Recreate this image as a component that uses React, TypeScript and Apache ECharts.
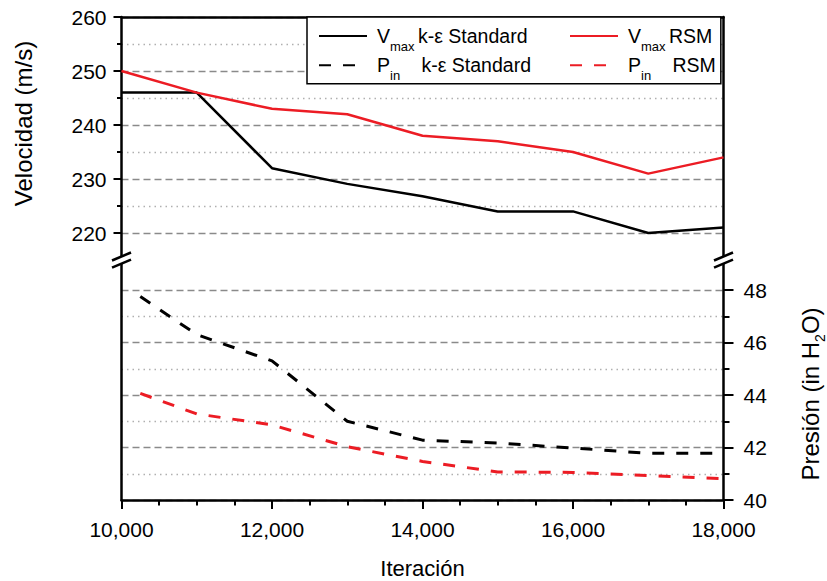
import React, { useEffect, useRef } from "react";
import * as echarts from "echarts";

// ---------- data ----------
const ITER = [10000, 11000, 12000, 13000, 14000, 15000, 16000, 17000, 18000];
const VMAX_KE = [246, 246, 232, 229.1, 226.8, 224, 224, 220, 221];
const VMAX_RSM = [250, 246, 243, 242, 238, 237, 235, 231, 234];
const PIN_ITER = [10250, 11000, 12000, 13000, 14000, 15000, 16000, 17000, 18000];
const PIN_KE = [47.75, 46.3, 45.3, 43.0, 42.28, 42.17, 41.98, 41.78, 41.78];
const PIN_RSM = [44.06, 43.28, 42.86, 42.03, 41.47, 41.07, 41.05, 40.93, 40.81];

const VEL_MAJOR = [220, 230, 240, 250, 260];
const VEL_MINOR = [225, 235, 245, 255];
const PRES_MAJOR = [40, 42, 44, 46, 48];
const PRES_MINOR = [41, 43, 45, 47];

const N_VKE = "Vmax k-ε Standard";
const N_VRSM = "Vmax RSM";
const N_PKE = "Pin k-ε Standard";
const N_PRSM = "Pin RSM";

const FONT = '"Liberation Sans", Arial, Helvetica, sans-serif';
const RED = "#ec1c24";
const BLACK = "#000000";

const pairs = (xs: number[], ys: number[]) => xs.map((x, i) => [x, ys[i]]);
const fmtThousands = (v: number) => String(v).replace(/\B(?=(\d{3})+(?!\d))/g, ",");

const LEGEND_TEXT: Record<string, string> = {
  [N_VKE]: "{v|V}{s|max}{t|k-ε Standard}",
  [N_VRSM]: "{v|V}{s|max}{u|RSM}",
  [N_PKE]: "{v|P}{s2|in}{t2|k-ε Standard}",
  [N_PRSM]: "{v|P}{s2|in}{u|RSM}",
};

export default function App() {
  const ref = useRef<HTMLDivElement>(null);

  useEffect(() => {
    if (!ref.current) return;
    const chart = echarts.init(ref.current, null, { renderer: "svg" });

    const axisLine = { show: true, onZero: false, lineStyle: { color: BLACK, width: 2.5 } };
    const dashedGrid = { show: true, lineStyle: { color: "#8a8a8a", width: 1.3, type: [7, 4] } };
    const dottedGrid = { show: true, lineStyle: { color: "#b0b0b0", width: 1.4, type: [1.5, 4] } };
    const tickStyle = { color: BLACK, width: 2 };
    const labelStyle = { color: BLACK, fontSize: 21, fontFamily: FONT };

    const grid = [
      { left: 121.5, right: 103.5, top: 17, height: 243 },
      { left: 121.5, right: 103.5, top: 263.75, height: 236.25 },
    ];

    const xAxis = [
      {
        gridIndex: 0, type: "value", position: "top", min: 10000, max: 18000,
        axisLine, axisTick: { show: false }, axisLabel: { show: false }, splitLine: { show: false },
      },
      {
        gridIndex: 1, type: "value", position: "bottom", min: 10000, max: 18000, interval: 2000,
        axisLine,
        axisTick: { show: true, length: 9, lineStyle: tickStyle },
        minorTick: { show: true, splitNumber: 4, length: 5.5, lineStyle: tickStyle },
        axisLabel: { ...labelStyle, margin: 19, formatter: (v: number) => fmtThousands(v) },
        splitLine: { show: false },
        name: "Iteración", nameLocation: "middle", nameGap: 57,
        nameTextStyle: { color: BLACK, fontSize: 22, fontFamily: FONT },
      },
    ];

    const yAxis = [
      {
        gridIndex: 0, type: "value", position: "left", min: 215, max: 260,
        axisLine,
        axisTick: { show: true, length: 8, lineStyle: tickStyle, customValues: VEL_MAJOR },
        axisLabel: { ...labelStyle, margin: 15, customValues: VEL_MAJOR },
        splitLine: dashedGrid,
      },
      {
        gridIndex: 0, type: "value", position: "left", min: 215, max: 260,
        axisLine: { show: false },
        axisTick: { show: true, length: 4.5, lineStyle: tickStyle, customValues: VEL_MINOR },
        axisLabel: { show: false, customValues: VEL_MINOR },
        splitLine: dottedGrid,
      },
      {
        gridIndex: 0, type: "value", position: "right", min: 215, max: 260,
        axisLine, axisTick: { show: false }, axisLabel: { show: false }, splitLine: { show: false },
      },
      {
        gridIndex: 1, type: "value", position: "right", min: 40, max: 49,
        axisLine,
        axisTick: { show: true, length: 10, lineStyle: tickStyle, customValues: PRES_MAJOR },
        axisLabel: { ...labelStyle, margin: 20, customValues: PRES_MAJOR },
        splitLine: dashedGrid,
      },
      {
        gridIndex: 1, type: "value", position: "right", min: 40, max: 49,
        axisLine: { show: false },
        axisTick: { show: true, length: 6, lineStyle: tickStyle, customValues: PRES_MINOR },
        axisLabel: { show: false, customValues: PRES_MINOR },
        splitLine: dottedGrid,
      },
      {
        gridIndex: 1, type: "value", position: "left", min: 40, max: 49,
        axisLine, axisTick: { show: false }, axisLabel: { show: false }, splitLine: { show: false },
      },
    ];

    const series = [
      {
        name: N_VKE, type: "line", xAxisIndex: 0, yAxisIndex: 0, data: pairs(ITER, VMAX_KE),
        symbol: "none", lineStyle: { color: BLACK, width: 2.5 }, itemStyle: { color: BLACK }, z: 5,
      },
      {
        name: N_VRSM, type: "line", xAxisIndex: 0, yAxisIndex: 0, data: pairs(ITER, VMAX_RSM),
        symbol: "none", lineStyle: { color: RED, width: 2.5 }, itemStyle: { color: RED }, z: 5,
      },
      {
        name: N_PKE, type: "line", xAxisIndex: 1, yAxisIndex: 3, data: pairs(PIN_ITER, PIN_KE),
        symbol: "none", lineStyle: { color: BLACK, width: 3, type: [12, 12] }, itemStyle: { color: BLACK }, z: 5,
      },
      {
        name: N_PRSM, type: "line", xAxisIndex: 1, yAxisIndex: 3, data: pairs(PIN_ITER, PIN_RSM),
        symbol: "none", lineStyle: { color: RED, width: 3, type: [12, 12] }, itemStyle: { color: RED }, z: 5,
      },
    ];

    const clearBg = "rgba(255,255,255,0)";
    const mainTok = { fontSize: 19.5, fontFamily: FONT, color: BLACK };
    const subTok = { fontSize: 13, fontFamily: FONT, color: BLACK, padding: [20.5, 0, 0, 0] };

    const legend = {
      left: 307, top: 17,
      orient: "horizontal",
      width: 404,
      itemWidth: 48, itemHeight: 20, itemGap: 2.5,
      padding: [8.9, 5, 1.8, 11],
      borderColor: BLACK, borderWidth: 1.5, backgroundColor: "#ffffff",
      selectedMode: false,
      data: [N_VKE, N_VRSM, N_PKE, N_PRSM],
      itemStyle: { opacity: 0, borderWidth: 0 },
      formatter: (name: string) => LEGEND_TEXT[name],
      textStyle: {
        ...mainTok,
        rich: {
          v: { ...mainTok, width: 13, padding: [0, 0, 0, 5] },
          s: { ...subTok, width: 28 },
          s2: { ...subTok, width: 31.5 },
          t: { ...mainTok, width: 148.5, backgroundColor: clearBg },
          t2: { ...mainTok, width: 145, backgroundColor: clearBg },
          u: { ...mainTok },
        },
      },
      z: 20,
    };

    const brk = (cx: number, cy: number) => ({
      type: "line", z: 100,
      shape: { x1: cx - 9.5, y1: cy + 4, x2: cx + 9.5, y2: cy - 4 },
      style: { stroke: BLACK, lineWidth: 2.5 },
    });
    const brkFill = (cx: number) => ({
      type: "polygon", z: 99,
      shape: { points: [[cx - 9.5, 260.5], [cx + 9.5, 252.5], [cx + 9.5, 259.6], [cx - 9.5, 267.6]] },
      style: { fill: "#ffffff" },
    });

    const graphic = [
      brkFill(121.5), brk(121.5, 256.5), brk(121.5, 263.6),
      brkFill(723.5), brk(723.5, 256.5), brk(723.5, 263.6),
      {
        type: "text", x: 23.5, y: 123.5, rotation: Math.PI / 2, z: 50,
        style: {
          text: "Velocidad (m/s)", fontSize: 24, fontFamily: FONT, fill: BLACK,
          align: "center", verticalAlign: "middle", textAlign: "center", textVerticalAlign: "middle",
        },
      },
      {
        type: "text", x: 810, y: 394, rotation: Math.PI / 2, z: 50,
        style: {
          text: "{m|Presión (in H}{s|2}{m|O)}", fill: BLACK,
          align: "center", verticalAlign: "middle", textAlign: "center", textVerticalAlign: "middle",
          rich: {
            m: { fontSize: 24, fontFamily: FONT, fill: BLACK },
            s: { fontSize: 14, fontFamily: FONT, fill: BLACK, padding: [19, 0, 0, 0] },
          },
        },
      },
    ];

    chart.setOption({
      animation: false,
      backgroundColor: "#ffffff",
      grid, xAxis, yAxis, series, legend, graphic,
    } as any);

    return () => chart.dispose();
  }, []);

  return (
    <div
      ref={ref}
      style={{ position: "fixed", left: 0, top: 0, width: 827, height: 581, background: "#fff" }}
    />
  );
}
